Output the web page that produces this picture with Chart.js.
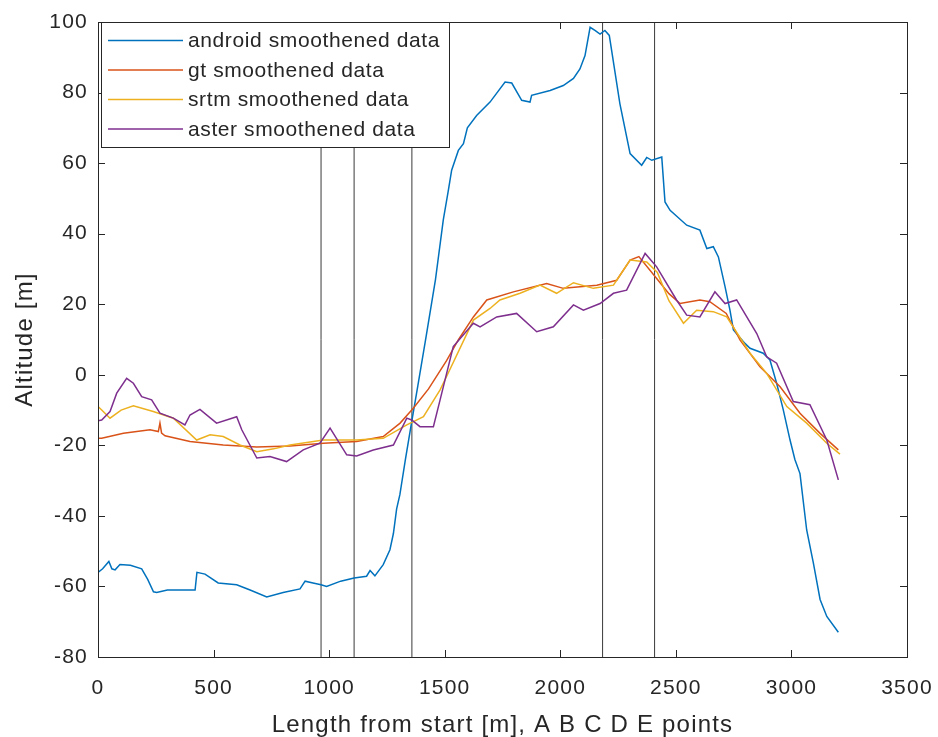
<!DOCTYPE html>
<html>
<head>
<meta charset="utf-8">
<script src="https://cdn.jsdelivr.net/npm/chart.js"></script>
<style>
  body { margin: 0; background: #fff; }
  #wrap { width: 938px; height: 737px; }
</style>
</head>
<body>
<div id="wrap"><canvas id="canvas" width="938" height="737"></canvas></div>
<script>
// series names + colours (matlab default order)
var seriesNames = ['android smoothened data', 'gt smoothened data', 'srtm smoothened data', 'aster smoothened data'];
var seriesColors = ['#0072BD', '#D95319', '#EDB120', '#7E2F8E'];

// A B C D E points along the track [m]
var markerX = [965, 1108, 1358, 2183, 2408];

var xTicks = [0, 500, 1000, 1500, 2000, 2500, 3000, 3500];
var yTicks = [-80, -60, -40, -20, 0, 20, 40, 60, 80, 100];

var androidX = [0, 20, 47, 60, 74, 95, 140, 189, 215, 240, 254, 300, 350, 420, 428, 463, 520, 600, 658, 730, 801, 874, 896, 930, 965, 989, 1050, 1108, 1162, 1177, 1198, 1234, 1263, 1278, 1292, 1306, 1330, 1358, 1384, 1420, 1460, 1494, 1515, 1530, 1559, 1581, 1598, 1638, 1696, 1761, 1790, 1833, 1869, 1876, 1956, 2013, 2057, 2085, 2107, 2129, 2150, 2172, 2193, 2212, 2258, 2302, 2352, 2374, 2396, 2439, 2453, 2475, 2547, 2604, 2634, 2662, 2684, 2713, 2734, 2749, 2799, 2821, 2878, 2907, 2936, 2965, 2994, 3015, 3037, 3066, 3095, 3124, 3153, 3203];
var androidY = [-56, -55, -52.9, -55, -55.3, -53.8, -54, -55, -58, -61.5, -61.7, -61, -61, -61, -56, -56.5, -59, -59.5, -61, -63, -61.7, -60.7, -58.5, -59, -59.5, -60, -58.5, -57.6, -57.1, -55.5, -57, -53.8, -49.6, -45, -38, -34, -24, -13, -3, 11, 27, 44, 52, 58, 63.6, 65.5, 70, 73.5, 77.3, 83, 82.7, 77.8, 77.3, 79.2, 80.6, 82, 84, 86.7, 90.5, 98.5, 97.6, 96.6, 97.6, 96.2, 76.8, 62.7, 59.4, 61.6, 60.8, 61.7, 49, 46.6, 42.4, 41, 35.8, 36.3, 33.4, 24.9, 18.3, 12.7, 8.9, 7.5, 6.1, 4.2, -2.4, -10, -18.5, -24, -28, -44, -53.4, -63.7, -68.5, -73];

var gtX = [0, 16, 110, 225, 261, 268, 275, 290, 398, 542, 687, 831, 975, 1119, 1234, 1307, 1364, 1430, 1508, 1560, 1624, 1682, 1797, 1941, 2013, 2158, 2244, 2302, 2340, 2417, 2470, 2518, 2604, 2647, 2718, 2778, 2864, 2951, 3037, 3124, 3203];
var gtY = [-18, -18, -16.6, -15.6, -16.1, -13.7, -16.5, -17.3, -18.9, -19.9, -20.5, -20.2, -19.4, -18.9, -17.5, -13.7, -9.5, -4, 4, 10, 16.4, 21.2, 23.5, 25.9, 24.5, 25.4, 26.8, 32.5, 33.5, 27.3, 23, 20.2, 21.2, 20.7, 17.4, 9.8, 2.3, -3.4, -10.9, -16.6, -21.3];

var srtmX = [0, 16, 52, 100, 153, 239, 326, 427, 485, 542, 614, 687, 760, 831, 975, 1119, 1234, 1336, 1408, 1480, 1508, 1624, 1696, 1739, 1826, 1912, 1984, 2057, 2143, 2230, 2302, 2374, 2420, 2470, 2533, 2590, 2662, 2720, 2821, 2893, 2980, 3066, 3153, 3210];
var srtmY = [-9, -10, -12.3, -10, -8.8, -10.4, -12.3, -18.5, -17, -17.5, -19.9, -21.8, -21, -19.9, -18.5, -18.5, -18, -14.2, -11.9, -4.3, -0.5, 15.5, 18.8, 21.2, 23.1, 25.4, 23.1, 26.1, 24.5, 25.4, 32.5, 32, 29, 21, 14.6, 18.3, 17.9, 16.4, 6.1, 0.4, -9, -13.7, -19.4, -22.5];

var asterX = [0, 16, 52, 81, 124, 153, 189, 232, 268, 326, 376, 398, 441, 513, 600, 622, 687, 744, 816, 888, 960, 1004, 1076, 1119, 1191, 1278, 1336, 1357, 1393, 1451, 1480, 1537, 1624, 1653, 1725, 1811, 1898, 1970, 2057, 2100, 2172, 2230, 2287, 2367, 2417, 2503, 2547, 2604, 2669, 2713, 2763, 2850, 2893, 2936, 3008, 3080, 3153, 3203];
var asterY = [-13, -12.8, -10.4, -5.2, -1, -2.4, -6.2, -7.1, -10.9, -12.3, -14.2, -11.4, -9.8, -13.7, -11.9, -15.6, -23.6, -23.2, -24.6, -21.3, -19.4, -15.1, -22.7, -23, -21.3, -19.9, -12.3, -12.8, -14.7, -14.7, -7.1, 8, 14.6, 13.6, 16.4, 17.4, 12.2, 13.6, 19.8, 18.3, 20.2, 23.1, 24, 34.4, 30.6, 21.2, 16.9, 16.4, 23.5, 20.2, 21.2, 11.7, 5.1, 3.3, -7.6, -8.5, -18.5, -29.8];

var axisColor = '#262626';
var fontFamily = '"Liberation Sans", Arial, Helvetica, sans-serif';

function toPoints(xs, ys) {
  var pts = [];
  for (var i = 0; i < xs.length; i++) pts.push({x: xs[i], y: ys[i]});
  return pts;
}

var seriesX = [androidX, gtX, srtmX, asterX];
var seriesY = [androidY, gtY, srtmY, asterY];

var datasets = [];
for (var i = 0; i < seriesNames.length; i++) {
  datasets.push({
    label: seriesNames[i],
    data: toPoints(seriesX[i], seriesY[i]),
    borderColor: seriesColors[i],
    borderWidth: 1.5,
    pointRadius: 0,
    tension: 0,
    fill: false,
    order: 4 - i   // last plotted sits on top like in matlab
  });
}
// vertical marker lines
markerX.forEach(function(mx) {
  datasets.push({
    label: '',
    data: [{x: mx, y: yTicks[0]}, {x: mx, y: yTicks[yTicks.length - 1]}],
    borderColor: '#3a3a3a',
    borderWidth: 1,
    pointRadius: 0,
    fill: false,
    order: 10
  });
});

// wider letter spacing to mimic the upscaled matlab text
var spacingPlugin = {
  id: 'spacing',
  beforeUpdate: function(chart) { chart.ctx.letterSpacing = '1.2px'; },
  beforeDraw: function(chart) { chart.ctx.letterSpacing = '1.2px'; }
};

// axes box with inward ticks on all four sides
var boxPlugin = {
  id: 'box',
  afterDatasetsDraw: function(chart) {
    var ctx = chart.ctx, a = chart.chartArea;
    var xs = chart.scales.x, ys = chart.scales.y, tl = 7;
    ctx.save();
    ctx.strokeStyle = axisColor;
    ctx.lineWidth = 1;
    ctx.beginPath();
    xTicks.forEach(function(v) {
      var px = Math.round(xs.getPixelForValue(v)) + 0.5;
      ctx.moveTo(px, a.bottom); ctx.lineTo(px, a.bottom - tl);
      ctx.moveTo(px, a.top); ctx.lineTo(px, a.top + tl);
    });
    yTicks.forEach(function(v) {
      var py = Math.round(ys.getPixelForValue(v)) + 0.5;
      ctx.moveTo(a.left, py); ctx.lineTo(a.left + tl, py);
      ctx.moveTo(a.right, py); ctx.lineTo(a.right - tl, py);
    });
    ctx.stroke();
    ctx.strokeRect(Math.round(a.left) + 0.5, Math.round(a.top) + 0.5, Math.round(a.right - a.left), Math.round(a.bottom - a.top));
    ctx.restore();
  }
};

// matlab style legend box in the top left corner
var legendPlugin = {
  id: 'boxLegend',
  afterDraw: function(chart) {
    var ctx = chart.ctx, a = chart.chartArea;
    var left = Math.round(a.left) + 3, top = Math.round(a.top), w = 348, h = 125;
    ctx.save();
    ctx.fillStyle = '#fff';
    ctx.fillRect(left, top, w, h);
    ctx.strokeStyle = axisColor;
    ctx.lineWidth = 1;
    ctx.strokeRect(left + 0.5, top + 0.5, w, h);
    ctx.letterSpacing = '0.6px';
    ctx.font = '21px ' + fontFamily;
    ctx.textBaseline = 'middle';
    ctx.textAlign = 'left';
    for (var i = 0; i < seriesNames.length; i++) {
      var y = top + 18.5 + i * 29.5;
      ctx.strokeStyle = seriesColors[i];
      ctx.lineWidth = 1.5;
      ctx.beginPath();
      ctx.moveTo(left + 7, y);
      ctx.lineTo(left + 82, y);
      ctx.stroke();
      ctx.fillStyle = axisColor;
      ctx.fillText(seriesNames[i], left + 87, y + 1);
    }
    ctx.restore();
  }
};

function plainTick(v) { return String(v); }

var chart = new Chart(document.getElementById('canvas').getContext('2d'), {
  type: 'line',
  data: { datasets: datasets },
  options: {
    responsive: false,
    animation: false,
    layout: { padding: { top: 22, right: 31, left: 0, bottom: 0 } },
    plugins: { legend: { display: false }, tooltip: { enabled: false } },
    scales: {
      x: {
        type: 'linear',
        min: xTicks[0],
        max: xTicks[xTicks.length - 1],
        afterBuildTicks: function(scale) { scale.ticks = xTicks.map(function(v) { return {value: v}; }); },
        afterFit: function(scale) {
          scale.height = 80;
          // keep the plot box where matlab put it
          scale.paddingLeft = 0;
          scale.paddingRight = 0;
        },
        grid: { display: false, drawTicks: false },
        border: { display: false },
        ticks: { autoSkip: false, maxRotation: 0, padding: 19, callback: plainTick, color: axisColor, font: { family: fontFamily, size: 21 } },
        title: {
          display: true,
          text: 'Length from start [m], A B C D E points',
          color: axisColor,
          font: { family: fontFamily, size: 24, lineHeight: 1 },
          padding: { top: 0, bottom: 0 }
        }
      },
      y: {
        min: yTicks[0],
        max: yTicks[yTicks.length - 1],
        afterBuildTicks: function(scale) { scale.ticks = yTicks.map(function(v) { return {value: v}; }); },
        afterFit: function(scale) {
          scale.width = 98;
          scale.paddingTop = 0;
          scale.paddingBottom = 0;
        },
        grid: { display: false, drawTicks: false },
        border: { display: false },
        ticks: { padding: 10, callback: plainTick, color: axisColor, font: { family: fontFamily, size: 21 } },
        title: {
          display: true,
          text: 'Altitude [m]',
          color: axisColor,
          font: { family: fontFamily, size: 24, lineHeight: 1 },
          padding: { top: 13, bottom: 0 }
        }
      }
    }
  },
  plugins: [spacingPlugin, boxPlugin, legendPlugin]
});
</script>
</body>
</html>
